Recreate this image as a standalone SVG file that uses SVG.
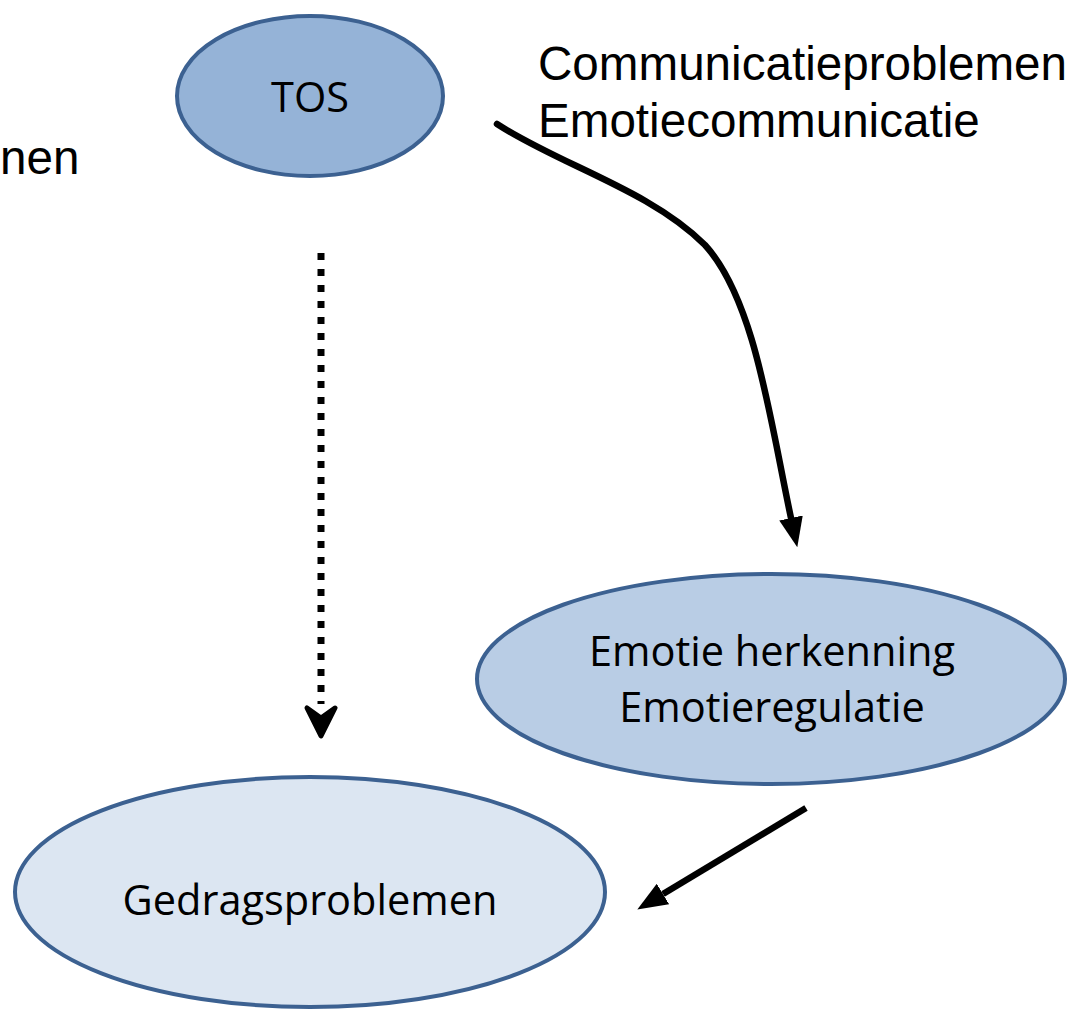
<svg xmlns="http://www.w3.org/2000/svg" width="1067" height="1012" viewBox="0 0 1067 1012">
<style>
.node{stroke:#3c6191;stroke-width:4}
.lbl{font-family:"Open Sans","Liberation Sans",sans-serif;font-size:41.5px;fill:#000;text-anchor:middle}
.side{font-family:"Liberation Sans",Arial,sans-serif;font-size:47.6px;fill:#000}
.conn{fill:none;stroke:#000;stroke-width:6.5}
</style>
<defs>
<marker id="tri" viewBox="0 0 30 24" markerUnits="userSpaceOnUse" markerWidth="30" markerHeight="24" refX="0" refY="12" orient="auto">
<path d="M0,0 L30,12 L0,24 Z" fill="#000"/>
</marker>
</defs>
<rect width="1067" height="1012" fill="#fff"/>
<text class="side" x="0" y="174">nen</text>
<text class="side" x="538" y="80">Communicatieproblemen</text>
<text class="side" x="538" y="137">Emotiecommunicatie</text>
<g id="connectors">
<path class="conn" d="M497,124 C560,165 650,190 705,245 C755,300 770,420 791,518" stroke-linecap="round" marker-end="url(#tri)"/>
<line x1="321" y1="253" x2="321" y2="704" stroke="#000" stroke-width="7" stroke-dasharray="7 9"/>
<path d="M307,708 L321,736 L335,708 L321,718 Z" fill="#000" stroke="#000" stroke-width="5" stroke-linejoin="round"/>
<path class="conn" d="M806,808 L663,894" marker-end="url(#tri)"/>
</g>
<g id="node-tos">
<ellipse class="node" cx="310" cy="96" rx="133" ry="80" fill="#95b3d7"/>
<text class="lbl" x="310" y="112">TOS</text>
</g>
<g id="node-emotie">
<ellipse class="node" cx="771" cy="679" rx="294" ry="105" fill="#b9cde5"/>
<text class="lbl" x="772" y="666">Emotie herkenning</text>
<text class="lbl" x="772" y="722">Emotieregulatie</text>
</g>
<g id="node-gedrag">
<ellipse class="node" cx="310" cy="892" rx="295" ry="115" fill="#dce6f2"/>
<text class="lbl" x="310" y="915">Gedragsproblemen</text>
</g>
</svg>
